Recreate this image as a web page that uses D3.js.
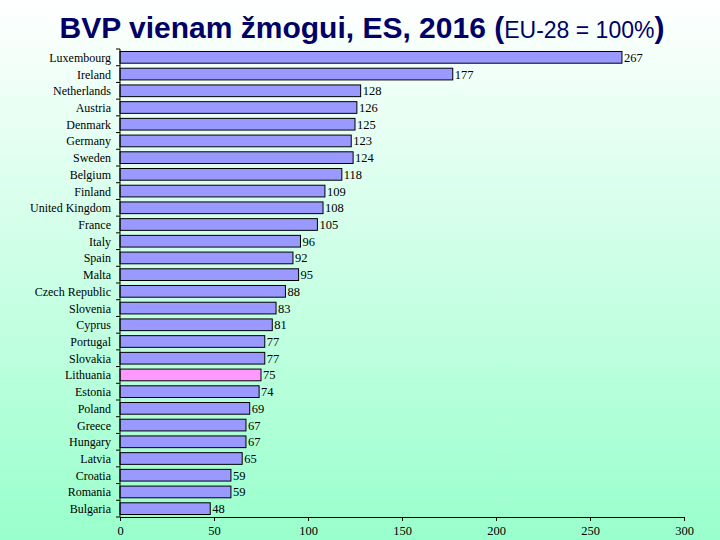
<!DOCTYPE html>
<html><head><meta charset="utf-8">
<script src="https://cdn.jsdelivr.net/npm/d3@7"></script>
<style>body{margin:0;}svg{display:block;}</style>
</head><body>
<script>
const countries = ["Luxembourg","Ireland","Netherlands","Austria","Denmark","Germany","Sweden","Belgium","Finland","United Kingdom","France","Italy","Spain","Malta","Czech Republic","Slovenia","Cyprus","Portugal","Slovakia","Lithuania","Estonia","Poland","Greece","Hungary","Latvia","Croatia","Romania","Bulgaria"];
const values = [267,177,128,126,125,123,124,118,109,108,105,96,92,95,88,83,81,77,77,75,74,69,67,67,65,59,59,48];
const highlight = ["Lithuania"];
const xTicks = [0,50,100,150,200,250,300];

const SERIF='"Liberation Serif"';
const W=720,H=540;
const svg=d3.select("body").append("svg").attr("width",W).attr("height",H);
const defs=svg.append("defs");
const g=defs.append("linearGradient").attr("id","bg").attr("x1",0).attr("y1",0).attr("x2",0).attr("y2",1);
g.append("stop").attr("offset","0%").attr("stop-color","#ffffff");
g.append("stop").attr("offset","50%").attr("stop-color","#ccffe6");
g.append("stop").attr("offset","100%").attr("stop-color","#99ffcc");
svg.append("rect").attr("width",W).attr("height",H).attr("fill","url(#bg)");

const title=svg.append("text").attr("x",362).attr("y",38).attr("text-anchor","middle")
 .style("font-family",'"Liberation Sans"').attr("fill","#000066");
title.append("tspan").attr("font-weight","bold").attr("font-size",30).text("BVP vienam žmogui, ES, 2016 (");
title.append("tspan").attr("font-size",23).text("EU-28 = 100%");
title.append("tspan").attr("font-weight","bold").attr("font-size",30).text(")");

const x=d3.scaleLinear().domain([0,300]).range([120,684]);
const y=d3.scaleBand().domain(countries).range([49,517]).paddingInner(0.3).paddingOuter(0.15);

svg.append("g").selectAll("rect").data(countries).join("rect")
 .attr("x",x(0)).attr("y",d=>y(d)).attr("width",(d,i)=>x(values[i])-x(0)).attr("height",y.bandwidth())
 .attr("fill",d=>highlight.includes(d)?"#ff99ff":"#9999ff").attr("stroke","#000").attr("stroke-width",1);

svg.append("g").selectAll("text").data(countries).join("text")
 .style("font-family",SERIF)
 .attr("x",(d,i)=>x(values[i])+2).attr("y",d=>y(d)+y.bandwidth()/2+4.5)
 .attr("font-size",12.5).attr("fill","#000")
 .text((d,i)=>values[i]);

// y axis
const ya=svg.append("g").attr("stroke","#000");
ya.append("line").attr("x1",120).attr("x2",120).attr("y1",49).attr("y2",517);
const bounds=d3.range(countries.length+1).map(i=>49+i*(468/countries.length));
ya.selectAll("line.t").data(bounds).join("line").attr("class","t")
 .attr("x1",116).attr("x2",120).attr("y1",d=>d).attr("y2",d=>d);
svg.append("g").selectAll("text").data(countries).join("text")
 .style("font-family",SERIF)
 .attr("x",111).attr("y",d=>y(d)+y.bandwidth()/2+4.5).attr("text-anchor","end")
 .attr("font-size",12).attr("fill","#000")
 .text(d=>d);

// x axis
const xa=svg.append("g").attr("transform","translate(0,517)")
 .call(d3.axisBottom(x).tickValues(xTicks).tickSize(4).tickSizeOuter(0).tickPadding(5));
xa.select(".domain").attr("stroke","#000");
xa.selectAll(".tick line").attr("stroke","#000");
xa.selectAll("text").style("font-family",SERIF).attr("font-size",12.5).attr("fill","#000");
</script>
</body></html>
